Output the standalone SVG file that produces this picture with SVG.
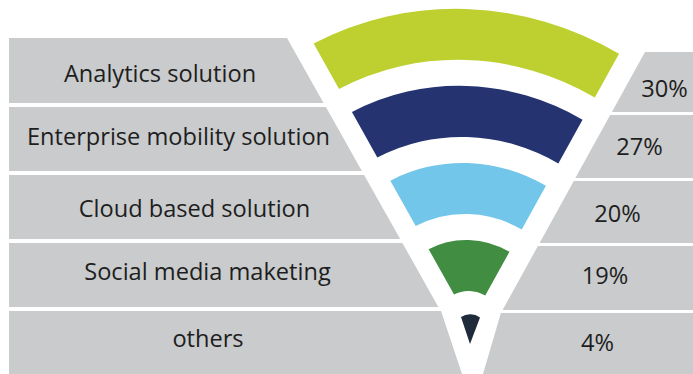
<svg xmlns="http://www.w3.org/2000/svg" width="693" height="374" viewBox="0 0 693 374">
  <style>
    .box { fill: #c9cbcc; }
    .lbl { font-family: "Open Sans", "Liberation Sans", sans-serif; font-size: 23.6px; fill: #1e1e1e; text-anchor: middle; }
  </style>
  <rect width="693" height="374" fill="#ffffff"/>

  <!-- Each row: left label box, fan band (sheared slightly about (470,323)), right percentage box -->

  <!-- row 1 -->
  <g id="analytics">
    <polygon class="box" points="9,38 287,38 323.6,103 9,103"/>
    <text class="lbl" x="160" y="82">Analytics solution</text>
    <path fill="#bdd030" transform="matrix(1,0.033,0.0133,1,-4.3,-15.5)"
          d="M317.3,48.6 A314,314 0 0 1 622.7,48.6 L597.9,93.2 A263,263 0 0 0 342.1,93.2 Z"/>
    <polygon class="box" points="645,52 693,52 693,112 611.9,112"/>
    <text class="lbl" x="664.5" y="97">30%</text>
  </g>

  <!-- row 2 -->
  <g id="enterprise-mobility">
    <polygon class="box" points="9,107 325.9,107 361.9,171 9,171"/>
    <text class="lbl" x="178.5" y="145">Enterprise mobility solution</text>
    <path fill="#253370" transform="matrix(1,0.033,0.0133,1,-4.3,-15.5)"
          d="M354.7,115.9 A237,237 0 0 1 585.3,115.9 L560.5,160.5 A186,186 0 0 0 379.5,160.5 Z"/>
    <polygon class="box" points="610.2,115 693,115 693,178 575.4,178"/>
    <text class="lbl" x="639.5" y="155">27%</text>
  </g>

  <!-- row 3 -->
  <g id="cloud-based">
    <polygon class="box" points="9,175 364.1,175 400.2,239 9,239"/>
    <text class="lbl" x="194.5" y="217">Cloud based solution</text>
    <path fill="#72c6e9" transform="matrix(1,0.033,0.0133,1,-4.3,-15.5)"
          d="M392.2,183.2 A160,160 0 0 1 547.8,183.2 L523,227.8 A109,109 0 0 0 417,227.8 Z"/>
    <polygon class="box" points="573.8,181 693,181 693,243 539.6,243"/>
    <text class="lbl" x="617.5" y="222">20%</text>
  </g>

  <!-- row 4 -->
  <g id="social-media">
    <polygon class="box" points="9,243 402.4,243 438.4,307 9,307"/>
    <text class="lbl" x="207.5" y="280">Social media maketing</text>
    <path fill="#418d42" transform="matrix(1,0.033,0.0133,1,-4.3,-15.5)"
          d="M429.6,250.5 A83,83 0 0 1 510.4,250.5 L485.6,295 A32,32 0 0 0 454.4,295 Z"/>
    <polygon class="box" points="537.9,246 693,246 693,310 502.6,310"/>
    <text class="lbl" x="605" y="284">19%</text>
  </g>

  <!-- row 5 -->
  <g id="others">
    <polygon class="box" points="9,311 441,311 462,374 9,374"/>
    <text class="lbl" x="208" y="347">others</text>
    <path fill="#1f2a3a" d="M461,317 A17,17 0 0 1 480,317.5 L470,344 Z"/>
    <polygon class="box" points="500.9,313 693,313 693,374 483,374"/>
    <text class="lbl" x="597.5" y="351">4%</text>
  </g>
</svg>
